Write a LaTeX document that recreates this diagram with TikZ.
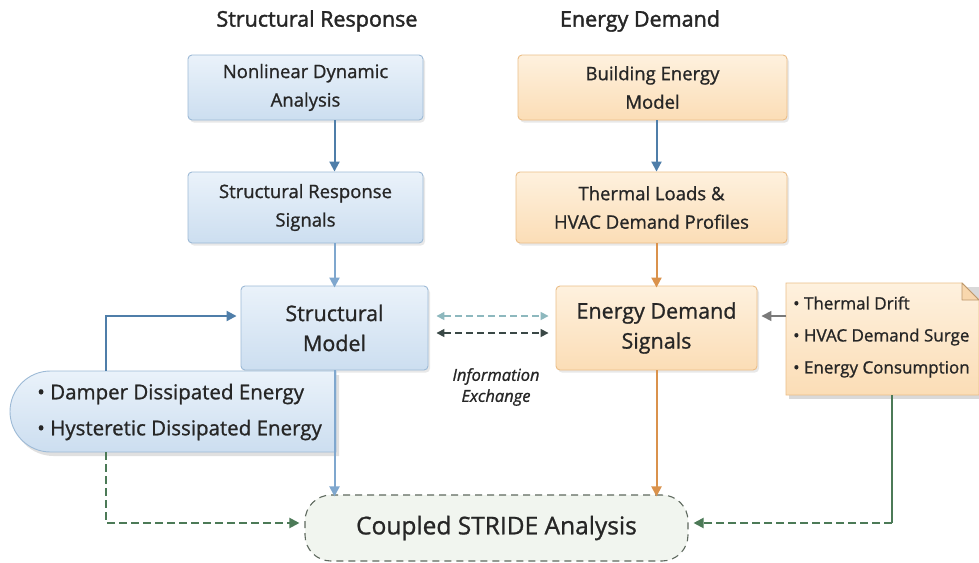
\documentclass[tikz,border=0pt]{standalone}
\usepackage{fontspec}
\setmainfont{Open Sans}
\newfontfamily\mfont{Open Sans}[FakeBold=1.0]
\newfontfamily\hfont{Open Sans}[FakeBold=1.8]
\usetikzlibrary{arrows.meta,shadows,calc}
\definecolor{txt}{HTML}{262626}
\definecolor{bluetop}{HTML}{EAF2FA}
\definecolor{bluebot}{HTML}{CCDEF0}
\definecolor{blueline}{HTML}{9DBAD6}
\definecolor{orgtop}{HTML}{FEF1DE}
\definecolor{orgbot}{HTML}{FBDDB6}
\definecolor{orgline}{HTML}{EBBE88}
\definecolor{darkblue}{HTML}{4F7EA9}
\definecolor{lightblue}{HTML}{7FA7CE}
\definecolor{orgarrow}{HTML}{DA924C}
\definecolor{green}{HTML}{4C7A57}
\definecolor{teal}{HTML}{8DB8BE}
\definecolor{darkgray}{HTML}{3A4846}
\definecolor{midgray}{HTML}{7A7A7A}
\definecolor{greenfill}{HTML}{F1F5EF}
\definecolor{dashgray}{HTML}{5E695E}
\tikzset{
  x=1pt, y=-1pt,
  shade box/.style={rectangle, rounded corners=4pt, line width=0.9pt, align=center,
     text=txt, font=\mfont\fontsize{18.5}{28.5}\selectfont,
     drop shadow={opacity=0.18, shadow xshift=2pt, shadow yshift=-2.5pt}},
  bluebox/.style={shade box, draw=blueline, top color=bluetop, bottom color=bluebot},
  orgbox/.style={shade box, draw=orgline, top color=orgtop, bottom color=orgbot},
  arr/.style={-{Triangle[width=10pt,length=10pt]}, line width=2pt},
  darr/.style={{Triangle[width=8pt,length=8pt]}-{Triangle[width=8pt,length=8pt]}, line width=1.6pt, dash pattern=on 7pt off 4pt},
  header/.style={font=\hfont\fontsize{21.5}{24}\selectfont, text=txt},
}
\begin{document}
\begin{tikzpicture}
\useasboundingbox (0,0) rectangle (979,562);
\fill[white] (0,0) rectangle (979,562);

% headers
\node[header] (h1) at (317,21) {Structural Response};
\node[header] (h2) at (640,21) {Energy Demand};

% boxes
\node[bluebox, minimum width=235pt, minimum height=65pt] (A) at (305.5,87.5) {Nonlinear Dynamic\\Analysis};
\node[orgbox, minimum width=269pt, minimum height=65pt] (B) at (652.5,87.5) {Building Energy\\Model};
\node[bluebox, minimum width=235pt, minimum height=71pt] (C) at (305.5,207.5) {Structural Response\\Signals};
\node[orgbox, minimum width=271pt, minimum height=71pt] (D) at (651.5,207.5) {Thermal Loads \&\\HVAC Demand Profiles};
\node[bluebox, minimum width=187pt, minimum height=84pt, font=\mfont\fontsize{21.5}{30}\selectfont] (E) at (334.5,328) {Structural\\Model};
\node[orgbox, minimum width=201pt, minimum height=84pt, font=\mfont\fontsize{21.5}{30}\selectfont] (F) at (656.5,328) {Energy Demand\\Signals};

% note
\fill[black, opacity=0.15] (789,287) -- (982,287) -- (982,399) -- (789,399) -- cycle;
\shade[top color=orgtop, bottom color=orgbot, draw=orgline, line width=0.9pt]
  (786,283) -- (962,283) -- (979,300) -- (979,395) -- (786,395) -- cycle;
\filldraw[fill=orgbot!80!orgline, draw=orgline!80!black, line width=0.9pt, line join=round]
  (962,283) -- (962,300) -- (979,300) -- cycle;
\node[anchor=west, align=left, text=txt, font=\mfont\fontsize{17}{32}\selectfont, inner sep=0pt] (G) at (793,337)
  {• Thermal Drift\\• HVAC Demand Surge\\• Energy Consumption};
\coordinate (Gw) at (786,316);
\coordinate (Gs) at (892,395);

% bubble
\fill[black, opacity=0.12] (339,375) -- (53.5,375) arc[start angle=270, end angle=90, radius=40.5] -- (339,456) -- cycle;
\shade[top color=bluetop, bottom color=bluebot, draw=blueline, line width=0.9pt]
  (336,371) -- (50.5,371) arc[start angle=270, end angle=90, radius=40.5] -- (336,452) -- cycle;
\node[anchor=west, align=left, text=txt, font=\mfont\fontsize{20.5}{36}\selectfont, inner sep=0pt] (H) at (37,412)
  {• Damper Dissipated Energy\\• Hysteretic Dissipated Energy};
\coordinate (Ht) at (106,371);
\coordinate (Hb) at (106,452);

% coupled
\node[rectangle, rounded corners=26pt, draw=dashgray, dash pattern=on 7pt off 5pt, line width=1.1pt,
  fill=greenfill, minimum width=383pt, minimum height=66pt, text=txt, font=\mfont\fontsize{24.5}{28}\selectfont] (I) at (496.5,528) {Coupled STRIDE Analysis};

% info exchange
\node[align=center, text=txt, font=\mfont\itshape\fontsize{16.5}{21}\selectfont] (ie) at (496,387) {Information\\Exchange};

% arrows
\draw[arr, darkblue] (A.south -| E) -- (C.north -| E);
\draw[arr, darkblue] (B.south -| F) -- (D.north -| F);
\draw[arr, lightblue] (C.south -| E) -- ([yshift=-2pt]E.north);
\draw[arr, orgarrow] (D.south -| F) -- ([yshift=-2pt]F.north);
\draw[arr, lightblue] (E.south) -- ([yshift=-2pt]I.north -| E);
\draw[arr, orgarrow] (F.south) -- ([yshift=-2pt]I.north -| F);
\draw[arr, darkblue] (Ht) -- (Ht |- 0,316) -- ([xshift=-4pt]E.west |- 0,316);
\draw[arr, midgray, line width=1.6pt] (Gw) -- ([xshift=4pt]F.east |- Gw);
\draw[darr, teal] ([xshift=8pt]E.east |- 0,316) -- ([xshift=-7pt]F.west |- 0,316);
\draw[darr, darkgray] ([xshift=8pt]E.east |- 0,333) -- ([xshift=-7pt]F.west |- 0,333);
\draw[arr, green, dash pattern=on 8pt off 4pt] (Hb) -- (106,523) -- ([xshift=-5pt]I.west |- 0,523);
\draw[green, line width=2pt] (Gs) -- (892,523);
\draw[arr, green, dash pattern=on 8pt off 4pt] (892,523) -- ([xshift=5pt]I.east |- 0,523);
\end{tikzpicture}
\end{document}
